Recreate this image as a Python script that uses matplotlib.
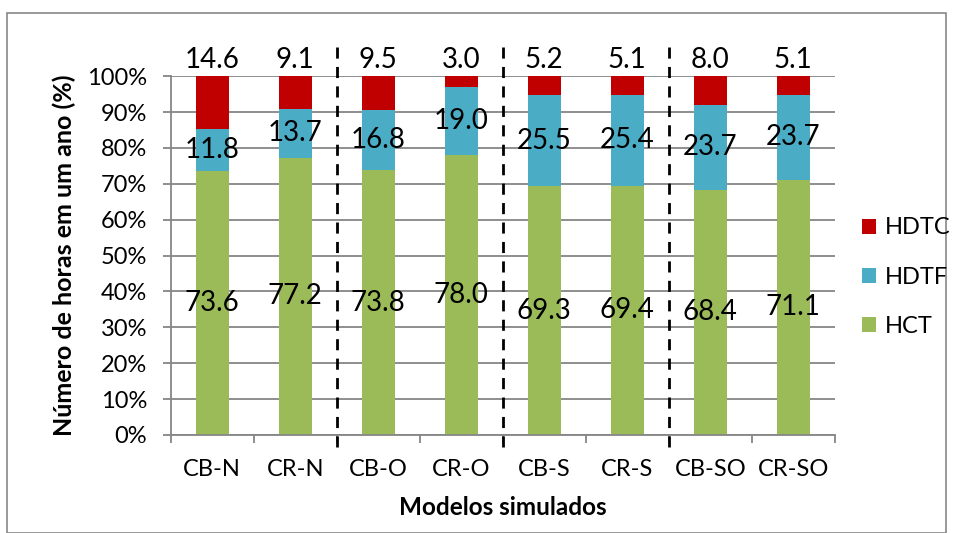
import matplotlib
matplotlib.use("Agg")
import matplotlib.pyplot as plt
from matplotlib.patches import Rectangle
import numpy as np

plt.rcParams['font.family'] = ['Lato', 'DejaVu Sans']

categories = ["CB-N", "CR-N", "CB-O", "CR-O", "CB-S", "CR-S", "CB-SO", "CR-SO"]
hct = [73.6, 77.2, 73.8, 78.0, 69.3, 69.4, 68.4, 71.1]
hdtf = [11.8, 13.7, 16.8, 19.0, 25.5, 25.4, 23.7, 23.7]
hdtc = [14.6, 9.1, 9.5, 3.0, 5.2, 5.1, 8.0, 5.1]
yticks = [0, 10, 20, 30, 40, 50, 60, 70, 80, 90, 100]
group_breaks = [1.5, 3.5, 5.5]

c_hct = "#9BBB59"
c_hdtf = "#4BACC6"
c_hdtc = "#C00000"
grid_c = "#868686"

fig = plt.figure(figsize=(9.54, 5.33), dpi=100)
ax = fig.add_axes([0.179, 0.184, 0.696, 0.673])

x = np.arange(len(categories))
tot = np.array(hct) + np.array(hdtf) + np.array(hdtc)
p_hct = np.array(hct) / tot * 100
p_hdtf = np.array(hdtf) / tot * 100
p_hdtc = np.array(hdtc) / tot * 100

w = 0.4
b1 = ax.bar(x, p_hct, w, color=c_hct, zorder=2, label="HCT")
b2 = ax.bar(x, p_hdtf, w, bottom=p_hct, color=c_hdtf, zorder=2, label="HDTF")
b3 = ax.bar(x, p_hdtc, w, bottom=p_hct + p_hdtf, color=c_hdtc, zorder=2, label="HDTC")

fs = 20
for i in range(len(categories)):
    ax.text(x[i], p_hct[i] / 2, f"{hct[i]:.1f}", ha="center", va="center",
            fontsize=fs, zorder=4)
    ax.text(x[i], p_hct[i] + p_hdtf[i] / 2, f"{hdtf[i]:.1f}", ha="center",
            va="center", fontsize=fs, zorder=4)
    ax.text(x[i], 104.5, f"{hdtc[i]:.1f}", ha="center", va="center",
            fontsize=fs, zorder=4)

ax.set_xlim(-0.5, len(categories) - 0.5)
ax.set_ylim(0, 100)
ax.set_yticks(yticks)
ax.set_yticklabels([f"{t}%" for t in yticks], fontsize=17)
ax.yaxis.grid(True, color=grid_c, linewidth=1.3, zorder=0)
ax.set_axisbelow(True)

ax.set_xticks(x)
ax.set_xticklabels(categories, fontsize=17)
ax.set_xticks(np.arange(-0.5, len(categories)), minor=True)
ax.tick_params(axis="x", which="major", length=0, pad=17)
ax.tick_params(axis="x", which="minor", length=6, color=grid_c, width=1.3, direction="out")
ax.tick_params(axis="y", length=6, color=grid_c, width=1.3, direction="out", pad=11)

for s in ["top", "right"]:
    ax.spines[s].set_visible(False)
for s in ["left", "bottom"]:
    ax.spines[s].set_color(grid_c)
    ax.spines[s].set_linewidth(1.3)

for gb in group_breaks:
    ax.axvline(gb, ymin=-0.033, ymax=1.095, color="black", linestyle=(0, (4, 3)),
               linewidth=2, clip_on=False, zorder=3)

ax.set_ylabel("Número de horas em um ano (%)", fontsize=18, fontweight="bold", labelpad=8)
ax.set_xlabel("Modelos simulados", fontsize=17.5, fontweight="bold", labelpad=12)

leg = fig.legend(handles=[b3, b2, b1], labels=["HDTC", "HDTF", "HCT"],
                 loc="center left", bbox_to_anchor=(862 / 954, 0.48), frameon=False,
                 borderpad=0, borderaxespad=0,
                 fontsize=17, labelspacing=1.2, handlelength=0.6, handleheight=0.6,
                 handletextpad=0.35)

fig.patches.append(Rectangle((7 / 954, 0.0), 939 / 954, 1 - 13 / 533 - 0.0,
                             transform=fig.transFigure, fill=False,
                             edgecolor="#878787", linewidth=1.2))

fig.savefig("out.png", dpi=100)
